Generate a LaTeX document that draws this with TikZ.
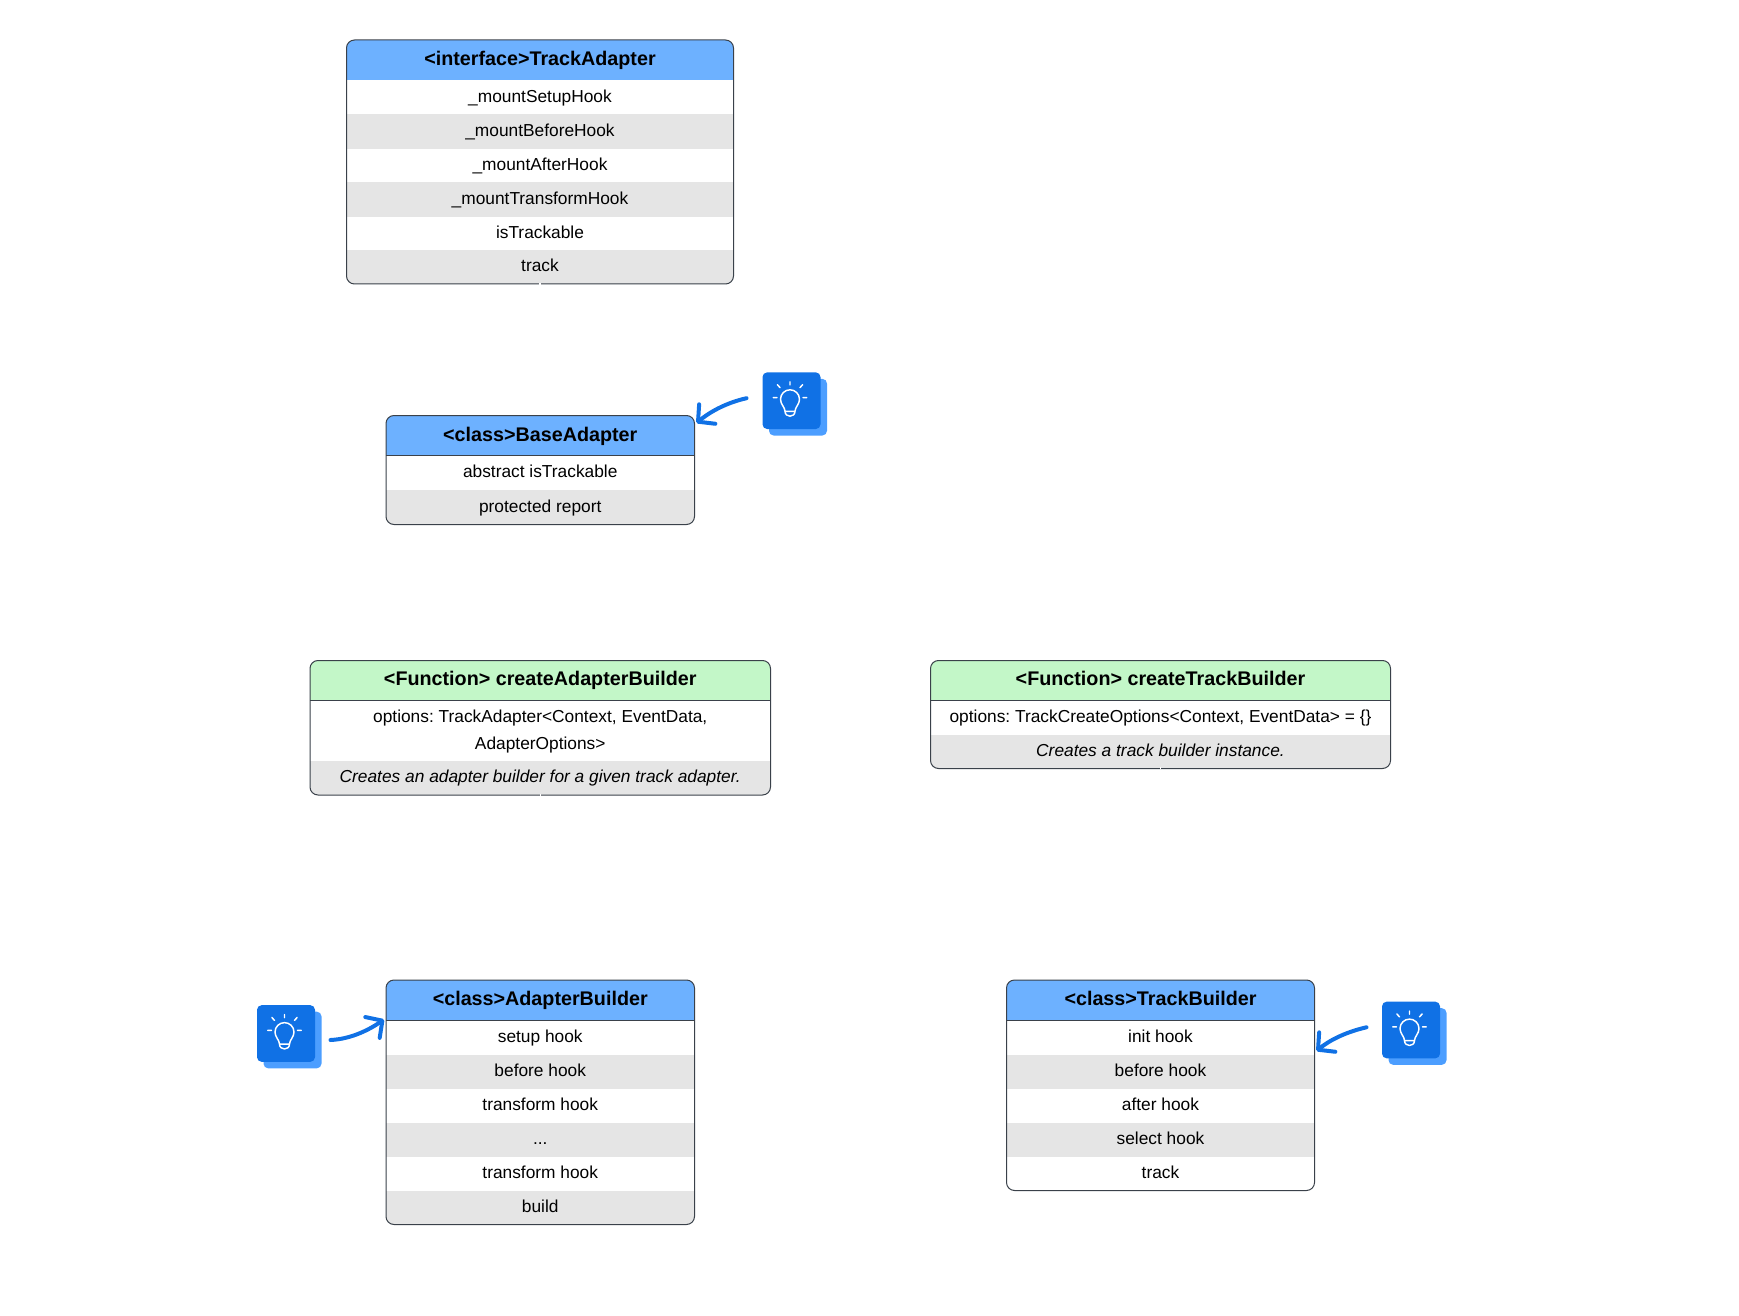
\documentclass[tikz,border=0pt]{standalone}
\usepackage{fontspec}
\setmainfont{Liberation Sans}
\usetikzlibrary{arrows.meta}
\frenchspacing
\definecolor{framecol}{HTML}{3A414A}
\definecolor{headblue}{HTML}{6DB1FF}
\definecolor{headgreen}{HTML}{C3F7C8}
\definecolor{rowgray}{HTML}{E5E5E5}
\definecolor{icondark}{HTML}{1071E5}
\definecolor{iconlight}{HTML}{4C9EFF}
\tikzset{
  cell/.style={inner sep=0pt, outer sep=0pt, align=center, text=black,
    font=\fontsize{13}{20}\selectfont\frenchspacing, text height=10.2pt, text depth=2.8pt},
  twolines/.style={text height=30.2pt},
  titlecell/.style={cell, font=\fontsize{14.8}{20}\selectfont\bfseries\frenchspacing, text height=11.4pt, text depth=3.2pt},
  framebox/.style={draw=framecol, line width=0.75pt, rounded corners=6pt, inner sep=0pt, outer sep=0pt, fill=none},
  notecard/.style={fill=icondark, rounded corners=3.5pt, minimum width=43.5pt, minimum height=42.5pt, inner sep=0pt, outer sep=0pt},
  backcard/.style={fill=iconlight, rounded corners=3.5pt, minimum width=43.5pt, minimum height=42.5pt, inner sep=0pt, outer sep=0pt},
  hint/.style={draw=icondark, line width=3pt, line cap=round,
    -{Straight Barb[length=9pt,width=19pt,round]}},
  notch/.style={white, line width=0.9pt},
  bulb/.pic={
    \draw[white, line width=1.1pt, line cap=round, line join=round]
      (-5,12) .. controls (-5,8) and (-9.5,5) .. (-9.5,0)
      .. controls (-9.5,-5.5) and (-5,-9.5) .. (0,-9.5)
      .. controls (5,-9.5) and (9.5,-5.5) .. (9.5,0)
      .. controls (9.5,5) and (5,8) .. (5,12) -- cycle
      (-5,12) .. controls (-5,18.5) and (5,18.5) .. (5,12)
      (0,-17.5) -- (0,-14.5)
      (-16.7,-1.7) -- (-13,-1.7) (16.7,-1.7) -- (13,-1.7)
      (-12.7,-14.7) -- (-10,-11.7) (12.7,-14.7) -- (10,-11.7);
  }
}
% name, x1, x2, y1, y2, fill, text
\newcommand{\umlrow}[8][]{%
  \node[cell, fill=#7, minimum width={(#4-#3+1)*0.75pt}, minimum height={(#6-#5)*0.75pt},#1] (#2) at ({(#3+#4)/2},{(#5+#6)/2}) {#8};}
\newcommand{\umltitle}[7]{%
  \node[titlecell, fill=#6, minimum width={(#3-#2+1)*0.75pt}, minimum height={(#5-#4)*0.75pt}] (#1) at ({(#2+#3)/2},{(#4+#5)/2}) {#7};
  \draw[framecol, line width=0.75pt] (#1.south west) -- (#1.south east);}
% name, x1, x2, y1, y2
\newcommand{\umlframe}[5]{%
  \node[framebox, minimum width={(#3-#2)*0.75pt}, minimum height={(#5-#4)*0.75pt}] (#1) at ({(#2+#3)/2},{(#4+#5)/2}) {};}
\newcommand{\umlclip}[4]{\clip[rounded corners=6pt] (#1,#3) rectangle (#2,#4);}
% name, dark card centre
\newcommand{\hinticon}[3]{%
  \node[backcard] (#1back) at (#2+6.5,#3+6.5) {};
  \node[notecard] (#1) at (#2,#3) {};
  \pic at (#2-1.5,#3-1.4) {bulb};}
\begin{document}
\begin{tikzpicture}[x=0.75pt,y=-0.75pt]
\useasboundingbox (0,0) rectangle (1739,1316);

% TrackAdapter
\begin{scope}
\umlclip{346.5}{733.5}{40}{284}
\umltitle{ta}{346.5}{733.5}{40}{80.5}{headblue}{<interface>TrackAdapter}
\umlrow{ta1}{346.5}{733.5}{80.5}{114}{white}{\_mountSetupHook}
\umlrow{ta2}{346.5}{733.5}{114}{149}{rowgray}{\_mountBeforeHook}
\umlrow{ta3}{346.5}{733.5}{149}{182}{white}{\_mountAfterHook}
\umlrow{ta4}{346.5}{733.5}{182}{217}{rowgray}{\_mountTransformHook}
\umlrow{ta5}{346.5}{733.5}{217}{250}{white}{isTrackable}
\umlrow{ta6}{346.5}{733.5}{250}{284}{rowgray}{track}
\end{scope}
\umlframe{trackadapter}{346.5}{733.5}{40}{284}
\draw[notch] ([yshift=-0.5]trackadapter.south) -- ([yshift=1]trackadapter.south);

% BaseAdapter
\begin{scope}
\umlclip{386}{694.5}{415.5}{524.5}
\umltitle{ba}{386}{694.5}{415.5}{455.8}{headblue}{<class>BaseAdapter}
\umlrow{ba1}{386}{694.5}{455.8}{490}{white}{abstract isTrackable}
\umlrow{ba2}{386}{694.5}{490}{524.5}{rowgray}{protected report}
\end{scope}
\umlframe{baseadapter}{386}{694.5}{415.5}{524.5}

% createAdapterBuilder
\begin{scope}
\umlclip{310}{770.5}{660.5}{795}
\umltitle{cab}{310}{770.5}{660.5}{700.5}{headgreen}{<Function> createAdapterBuilder}
\umlrow[twolines]{cab1}{310}{770.5}{700.5}{761}{white}{options: TrackAdapter<Context, EventData,\\AdapterOptions>}
\umlrow{cab2}{310}{770.5}{761}{795}{rowgray}{\itshape Creates an adapter builder for a given track adapter.}
\end{scope}
\umlframe{createadapter}{310}{770.5}{660.5}{795}
\draw[notch] ([yshift=-0.5]createadapter.south) -- ([yshift=1]createadapter.south);

% createTrackBuilder
\begin{scope}
\umlclip{930.5}{1390.5}{660.5}{768.5}
\umltitle{ctb}{930.5}{1390.5}{660.5}{700.5}{headgreen}{<Function> createTrackBuilder}
\umlrow{ctb1}{930.5}{1390.5}{700.5}{734.5}{white}{options: TrackCreateOptions<Context, EventData> = \{\}}
\umlrow{ctb2}{930.5}{1390.5}{734.5}{768.5}{rowgray}{\itshape Creates a track builder instance.}
\end{scope}
\umlframe{createtrack}{930.5}{1390.5}{660.5}{768.5}
\draw[notch] ([yshift=-0.5]createtrack.south) -- ([yshift=1]createtrack.south);

% AdapterBuilder
\begin{scope}
\umlclip{386}{694.5}{980}{1224.5}
\umltitle{ab}{386}{694.5}{980}{1020.5}{headblue}{<class>AdapterBuilder}
\umlrow{ab1}{386}{694.5}{1020.5}{1054.5}{white}{setup hook}
\umlrow{ab2}{386}{694.5}{1054.5}{1089}{rowgray}{before hook}
\umlrow{ab3}{386}{694.5}{1089}{1122.5}{white}{transform hook}
\umlrow{ab4}{386}{694.5}{1122.5}{1157}{rowgray}{...}
\umlrow{ab5}{386}{694.5}{1157}{1190.5}{white}{transform hook}
\umlrow{ab6}{386}{694.5}{1190.5}{1224.5}{rowgray}{build}
\end{scope}
\umlframe{adapterbuilder}{386}{694.5}{980}{1224.5}

% TrackBuilder
\begin{scope}
\umlclip{1006.5}{1314.5}{980}{1190.5}
\umltitle{tb}{1006.5}{1314.5}{980}{1020.5}{headblue}{<class>TrackBuilder}
\umlrow{tb1}{1006.5}{1314.5}{1020.5}{1054.5}{white}{init hook}
\umlrow{tb2}{1006.5}{1314.5}{1054.5}{1089}{rowgray}{before hook}
\umlrow{tb3}{1006.5}{1314.5}{1089}{1122.5}{white}{after hook}
\umlrow{tb4}{1006.5}{1314.5}{1122.5}{1157}{rowgray}{select hook}
\umlrow{tb5}{1006.5}{1314.5}{1157}{1190.5}{white}{track}
\end{scope}
\umlframe{trackbuilder}{1006.5}{1314.5}{980}{1190.5}

% hint icons
\hinticon{iconbase}{791.5}{400.7}
\hinticon{iconab}{286}{1033.5}
\hinticon{icontb}{1411}{1030}

% hint connectors
\coordinate (s1) at ([shift={(-16,-2.5)}]iconbase.west);
\coordinate (t1) at ([shift={(2,7.5)}]baseadapter.north east);
\draw[hint] (s1) .. controls +(-22,5) and +(12,-10) .. (t1);
\coordinate (s2) at ([shift={(15.5,6.5)}]iconab.east);
\coordinate (t2) at ([shift={(-2,39.5)}]adapterbuilder.north west);
\draw[hint] (s2) .. controls +(22,-1) and +(-13,9) .. (t2);
\coordinate (s3) at ([shift={(-15.5,-2.7)}]icontb.west);
\coordinate (t3) at ([shift={(2,71)}]trackbuilder.north east);
\draw[hint] (s3) .. controls +(-22,5) and +(12,-10) .. (t3);
\end{tikzpicture}
\end{document}
